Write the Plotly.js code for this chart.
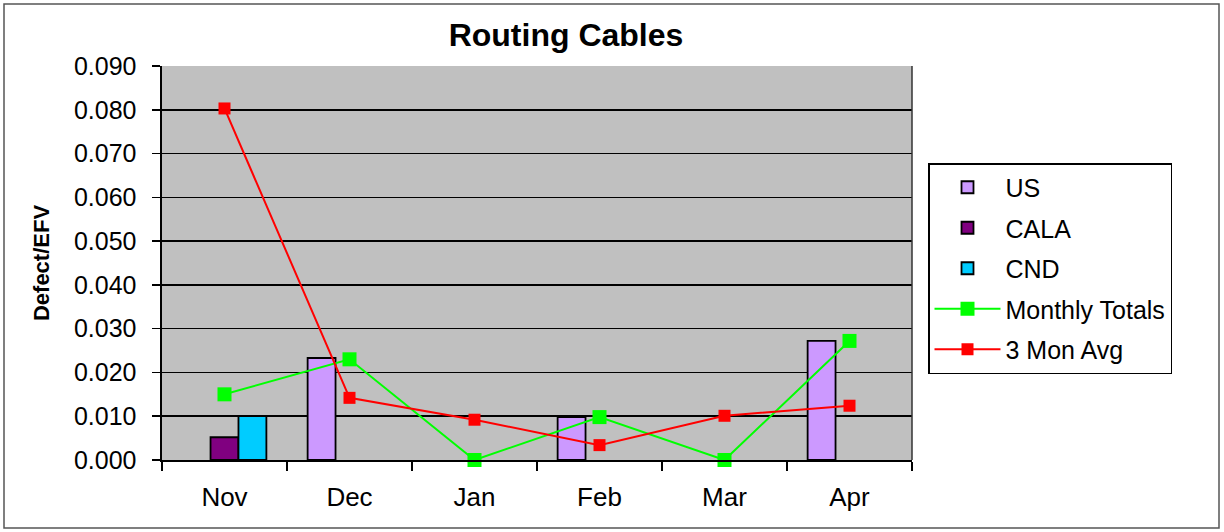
<!DOCTYPE html>
<html>
<head>
<meta charset="utf-8">
<script src="https://cdn.plot.ly/plotly-3.0.1.min.js"></script>
<style>html,body{margin:0;padding:0;background:#fff;}#chart{width:1224px;height:532px;}</style>
</head>
<body>
<div id="chart"></div>
<script>
const months = ["Nov", "Dec", "Jan", "Feb", "Mar", "Apr"];
const usValues = [null, 0.0233, null, 0.0098, null, 0.0272];
const calaValues = [0.0052, null, null, null, null, null];
const cndValues = [0.0100, null, null, null, null, null];
const monthlyTotals = [0.0150, 0.0230, 0.0000, 0.0098, 0.0000, 0.0272];
const threeMonAvg = [0.0803, 0.0142, 0.0092, 0.0034, 0.0101, 0.0124];
const yTicks = [0, 0.01, 0.02, 0.03, 0.04, 0.05, 0.06, 0.07, 0.08, 0.09];

const FONT = "Liberation Sans, Arial, sans-serif";
const barLine = {color: "#000000", width: 1.8};

const traces = [
  {type: "bar", name: "US", x: months, y: usValues, marker: {color: "#CC99FF", line: barLine}, legendgroup: "a"},
  {type: "bar", name: "CALA", x: months, y: calaValues, marker: {color: "#800080", line: barLine}, legendgroup: "b"},
  {type: "bar", name: "CND", x: months, y: cndValues, marker: {color: "#00CCFF", line: barLine}, legendgroup: "c"},
  {type: "scatter", mode: "lines+markers", name: "Monthly Totals", x: months, y: monthlyTotals,
   line: {color: "#00FF00", width: 2}, marker: {color: "#00FF00", symbol: "square", size: 14}, legendgroup: "d", cliponaxis: false},
  {type: "scatter", mode: "lines+markers", name: "3 Mon Avg", x: months, y: threeMonAvg,
   line: {color: "#FF0000", width: 2}, marker: {color: "#FF0000", symbol: "square", size: 12}, legendgroup: "e", cliponaxis: false}
];

const L = 162, R = 912, T = 66, B = 460, W = 1224, H = 532;
const px = v => (v - L) / (R - L);
const py = v => (B - v) / (B - T);

const layout = {
  width: W, height: H,
  margin: {l: L, r: W - R, t: T, b: H - B, pad: 0},
  paper_bgcolor: "#FFFFFF",
  plot_bgcolor: "#C0C0C0",
  font: {family: FONT, color: "#000000", size: 24},
  title: {text: "<b>Routing Cables</b>", font: {family: FONT, size: 32, color: "#000"},
          xref: "container", x: 566 / W, xanchor: "center", yref: "container", y: 1 - 35 / H, yanchor: "middle"},
  barmode: "group",
  bargap: 0.33,
  bargroupgap: 0,
  showlegend: true,
  legend: {
    x: px(928), xanchor: "left", y: py(163), yanchor: "top",
    bordercolor: "#000000", borderwidth: 1.5, bgcolor: "#FFFFFF",
    font: {family: FONT, size: 25, color: "#000"},
    traceorder: "grouped", tracegroupgap: 5, itemwidth: 66
  },
  xaxis: {
    type: "category", range: [-0.5, 5.5], tickson: "boundaries",
    ticks: "outside", ticklen: 9, tickwidth: 1.5, tickcolor: "#000",
    showline: true, linecolor: "#000", linewidth: 2,
    showgrid: false, zeroline: false,
    tickfont: {family: FONT, size: 26, color: "#000"},
    ticklabelstandoff: 13
  },
  yaxis: {
    range: [0, 0.09], tickvals: yTicks, tickformat: ".3f",
    ticks: "outside", ticklen: 8, tickwidth: 1.5, tickcolor: "#000",
    showline: true, linecolor: "#000", linewidth: 2.5,
    showgrid: true, gridcolor: "#000000", gridwidth: 1.5, zeroline: false,
    tickfont: {family: FONT, size: 25, color: "#000"},
    ticklabelstandoff: 10,
    title: {text: "<b>Defect/EFV</b>", font: {family: FONT, size: 22, color: "#000"}, standoff: 18}
  },
  shapes: [
    {type: "rect", xref: "paper", yref: "paper", x0: px(4), x1: px(1219), y0: py(528), y1: py(4),
     line: {color: "#555555", width: 1.5}, fillcolor: "rgba(0,0,0,0)", layer: "below"},
    {type: "line", xref: "paper", yref: "paper", x0: 1, x1: 1, y0: 0, y1: 1, line: {color: "#333", width: 1.5}}
  ]
};

Plotly.newPlot("chart", traces, layout, {displayModeBar: false, staticPlot: true});
</script>
</body>
</html>
